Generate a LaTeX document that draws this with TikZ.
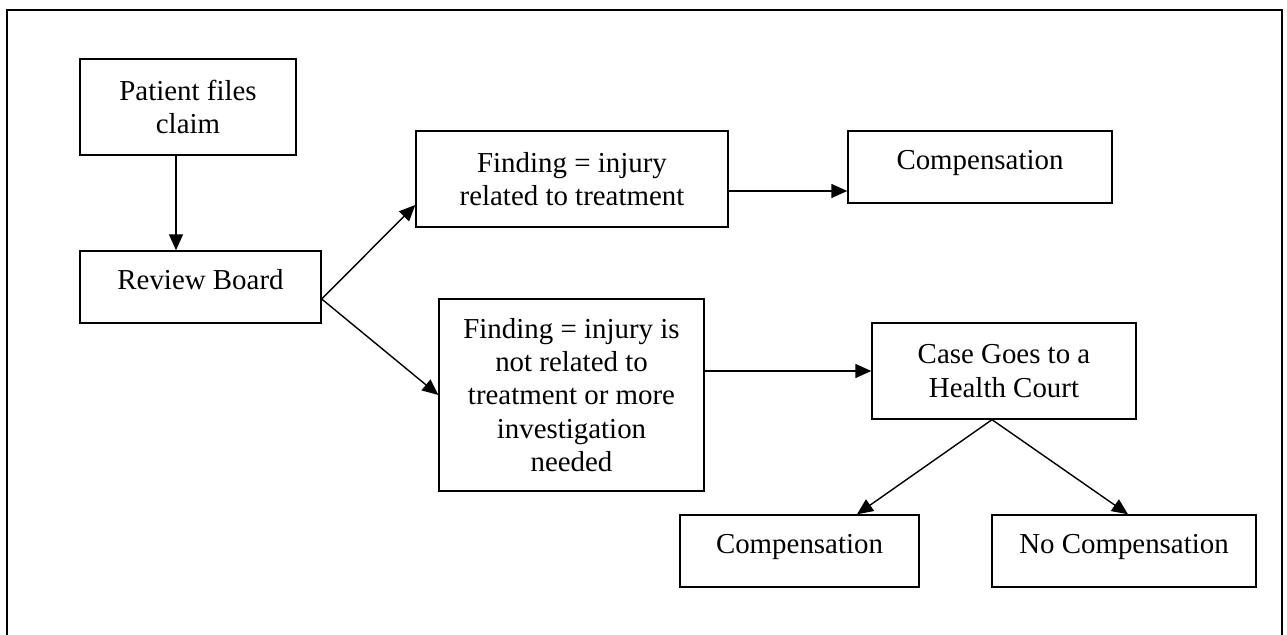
\documentclass[tikz,border=0pt]{standalone}
\usepackage{fontspec}
\setmainfont{Liberation Serif}
\usepackage{tikz}
\usetikzlibrary{
  arrows.meta,
  positioning
}

\begin{document}
\begin{tikzpicture}[x=0.5pt, y=-0.5pt,
    every node/.style={rectangle, align=center, inner sep=0pt, font=\fontsize{14.45}{16.6}\selectfont},
    stage/.style={draw, line width=0.7pt},
    single/.style={text height=12.5pt, text depth=10pt},
    flow/.style={-{Triangle[length=8pt, width=7pt]}, line width=0.7pt}]
\useasboundingbox (0,0) rectangle (1287,635);
\draw [line width=1.1pt] (7,635) -- (7,10) -- (1282,10) -- (1282,635);

\node [stage, minimum width=108pt, minimum height=48pt] (pat) at (188,107) {Patient files\\claim};
\node [stage, single, minimum width=120.5pt, minimum height=36pt] (rb) at (200.5,287) {Review Board};
\node [stage, minimum width=156pt, minimum height=48pt] (fa) at (572,179) {Finding = injury\\related to treatment};
\node [stage, minimum width=132.5pt, minimum height=96pt] (fb) at (571.5,395) {Finding = injury is\\not related to\\treatment or more\\investigation\\needed};
\node [stage, single, minimum width=132pt, minimum height=36pt] (compa) at (980,167) {Compensation};
\node [stage, minimum width=132pt, minimum height=48pt] (court) at (1004,371) {Case Goes to a\\Health Court};
\node [stage, single, minimum width=119.5pt, minimum height=36pt] (compb) at (799.5,551) {Compensation};
\node [stage, single, minimum width=132pt, minimum height=36pt] (nocomp) at (1124,551) {No Compensation};

\coordinate (rbout) at ([yshift=-6pt]rb.east);
\coordinate (split) at ([xshift=-6pt]court.south);

\draw [flow] ([xshift=-6pt]pat.south) -- ([xshift=-6pt]pat.south |- rb.north);
\draw [flow] (rbout) -- ([yshift=-13pt]fa.west);
\draw [flow] (rbout) -- (fb.west);
\draw [flow] ([yshift=-6pt]fa.east) -- ([yshift=-6pt]fa.east -| compa.west);
\draw [flow] (court.west -| fb.east) -- (court.west);
\draw [flow] (split) -- ([xshift=28.75pt]compb.north);
\draw [flow] (split) -- ([xshift=2pt]nocomp.north);
\end{tikzpicture}
\end{document}
